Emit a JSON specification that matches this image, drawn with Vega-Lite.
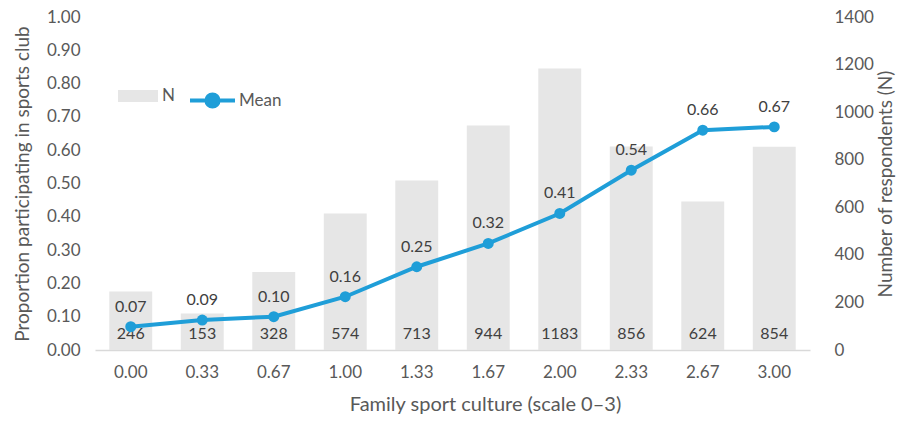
{
  "$schema": "https://vega.github.io/schema/vega-lite/v6.json",
  "autosize": {"type": "none"},
  "width": 715,
  "height": 333,
  "padding": {"left": 95, "top": 17, "right": 87, "bottom": 74},
  "background": "white",
  "config": {
    "view": {"stroke": null},
    "font": "Lato",
    "axis": {"labelFont": "Lato", "labelFontSize": 17, "labelColor": "#595959", "titleFont": "Lato", "titleFontSize": 19, "titleFontWeight": "normal", "titleColor": "#595959", "grid": false, "ticks": false, "labelOverlap": false},
    "legend": {"labelFont": "Lato", "labelFontSize": 17, "labelColor": "#595959"}
  },
  "data": {
    "values": [
      {"x": "0.00", "n": 246, "mean": 0.07},
      {"x": "0.33", "n": 153, "mean": 0.09},
      {"x": "0.67", "n": 328, "mean": 0.10},
      {"x": "1.00", "n": 574, "mean": 0.16},
      {"x": "1.33", "n": 713, "mean": 0.25},
      {"x": "1.67", "n": 944, "mean": 0.32},
      {"x": "2.00", "n": 1183, "mean": 0.41},
      {"x": "2.33", "n": 856, "mean": 0.54},
      {"x": "2.67", "n": 624, "mean": 0.66},
      {"x": "3.00", "n": 854, "mean": 0.67}
    ]
  },
  "encoding": {
    "x": {"field": "x", "type": "ordinal", "sort": null,
      "scale": {"paddingInner": 0.4, "paddingOuter": 0.2},
      "axis": {"title": "Family sport culture (scale 0–3)", "titleFontSize": 20, "titleX": 390, "titleAlign": "center", "labelAngle": 0, "labelPadding": 14, "titlePadding": 14, "domainColor": "#d9d9d9", "domainWidth": 1.5}}
  },
  "layer": [
    {
      "encoding": {
        "y": {"field": "n", "type": "quantitative",
          "scale": {"domain": [0, 1400]},
          "axis": {"orient": "right", "title": "Number of respondents (N)", "format": "d", "titleAngle": 270, "titleBaseline": "top", "values": [0,200,400,600,800,1000,1200,1400], "domain": false, "labelPadding": 24, "titlePadding": 3}}
      },
      "layer": [
        {
          "mark": {"type": "bar"},
          "encoding": {
            "fill": {"datum": "N", "scale": {"range": ["#e6e6e6"]},
              "legend": {"title": null, "orient": "none", "legendX": 23, "legendY": 59, "symbolType": "M-1,-0.3H1V0.3H-1Z", "symbolSize": 1600, "labelOffset": 4, "symbolStrokeWidth": 0}}
          }
        },
        {
          "mark": {"type": "text", "baseline": "bottom", "dy": -8, "font": "Lato", "fontSize": 16, "color": "#404040"},
          "encoding": {
            "y": {"datum": 0, "type": "quantitative"},
            "text": {"field": "n", "type": "quantitative"}
          }
        }
      ]
    },
    {
      "encoding": {
        "y": {"field": "mean", "type": "quantitative",
          "scale": {"domain": [0, 1]},
          "axis": {"orient": "left", "title": "Proportion participating in sports club", "format": ".2f", "values": [0,0.1,0.2,0.3,0.4,0.5,0.6,0.7,0.8,0.9,1.0], "domain": false, "labelPadding": 15, "titlePadding": 14}}
      },
      "layer": [
        {
          "mark": {"type": "line", "strokeWidth": 4},
          "encoding": {
            "stroke": {"datum": "Mean", "scale": {"range": ["#1f9ed8"]},
              "legend": {"title": null, "orient": "none", "legendX": 93, "legendY": 59, "symbolType": "M-1,0H-0.27A0.27,0.27 0 1,1 0.27,0H1M0.27,0A0.27,0.27 0 1,1 -0.27,0", "symbolSize": 2025, "symbolStrokeWidth": 4, "labelOffset": 2,
                "encode": {"symbols": {"update": {"fill": {"value": "#1f9ed8"}, "stroke": {"value": "#1f9ed8"}}}}}}
          }
        },
        {
          "mark": {"type": "point", "filled": true, "size": 120, "color": "#1f9ed8", "opacity": 1}
        },
        {
          "mark": {"type": "text", "baseline": "bottom", "dy": -12, "font": "Lato", "fontSize": 16, "color": "#404040"},
          "encoding": {
            "text": {"field": "mean", "type": "quantitative", "format": ".2f"}
          }
        }
      ]
    }
  ],
  "resolve": {"scale": {"y": "independent", "fill": "independent", "stroke": "independent"}}
}
